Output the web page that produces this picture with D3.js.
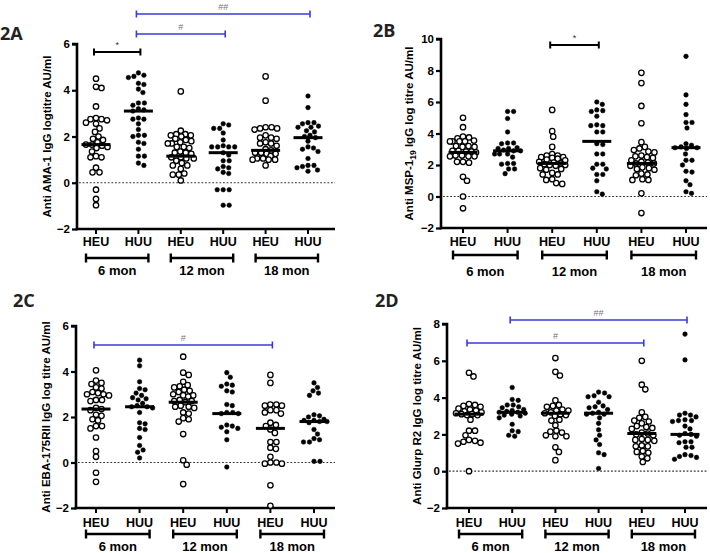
<!DOCTYPE html>
<html><head><meta charset="utf-8">
<script src="https://cdn.jsdelivr.net/npm/d3@7"></script>
<style>body{margin:0;background:#fff}svg{display:block;font-family:"Liberation Sans",Arial,sans-serif}</style>
</head><body>
<svg id="c" width="710" height="553"></svg>
<script>
// ---------- DATA ----------
const categories = ["HEU","HUU","HEU","HUU","HEU","HUU"];
const groups = ["6 mon","12 mon","18 mon"];

// 2A  Anti AMA-1
const ama1_HEU_6  = [4.5,4.15,4.1,3.3,2.8,2.75,2.75,2.7,2.6,2.55,2.35,2.2,2.0,1.9,1.85,1.75,1.65,1.65,1.6,1.55,1.5,1.35,1.15,1.1,1.1,0.65,0.45,0.45,-0.3,-0.7,-0.97];
const ama1_HUU_6  = [4.75,4.65,4.6,4.55,4.3,4.25,4.05,3.9,3.45,3.45,3.35,3.2,3.15,3.1,2.8,2.75,2.75,2.55,2.3,2.05,2.05,2.0,1.75,1.7,1.45,1.15,1.15,0.85,0.75];
const ama1_HEU_12 = [3.95,2.25,2.1,2.1,2.05,2.05,2.0,1.9,1.85,1.8,1.75,1.7,1.7,1.55,1.55,1.5,1.35,1.3,1.3,1.25,1.1,1.1,1.05,1.05,0.95,0.85,0.75,0.75,0.6,0.4,0.35,0.35,0.1];
const ama1_HUU_12 = [2.55,2.5,2.35,2.35,2.15,1.85,1.6,1.55,1.55,1.55,1.55,1.3,1.2,0.95,0.95,0.7,0.65,0.6,0.45,0.4,-0.3,-0.3,-0.3,-0.97,-0.97];
const ama1_HEU_18 = [4.6,3.55,2.4,2.4,2.35,2.35,2.3,2.05,1.95,1.95,1.9,1.75,1.7,1.7,1.6,1.45,1.4,1.3,1.3,1.25,1.25,1.15,1.05,1.05,1.0,1.0,1.0,0.75];
const ama1_HUU_18 = [3.75,3.25,2.6,2.6,2.55,2.45,2.4,2.4,2.25,2.2,2.05,2.0,1.95,1.8,1.55,1.5,1.45,1.35,1.05,0.75,0.7,0.65,0.55,0.5,0.75];
const ama1Medians = [1.65,3.1,1.15,1.3,1.4,1.95];
const ama1Ticks = [-2,0,2,4,6];

// 2B  Anti MSP-1 19
const msp1_HEU_6  = [5.0,4.4,3.8,3.75,3.7,3.55,3.5,3.5,3.5,3.5,3.2,3.15,3.15,3.2,2.9,2.9,2.85,2.85,2.8,2.6,2.55,2.55,2.55,2.6,2.2,2.2,2.15,1.25,1.0,0.0,-0.75];
const msp1_HUU_6  = [5.4,5.4,4.95,4.1,3.4,3.4,3.35,3.1,3.05,3.05,2.95,2.9,2.9,2.7,2.7,2.7,2.5,2.1,2.1,2.05,1.75,1.75,1.45];
const msp1_HEU_12 = [5.5,4.15,3.8,3.15,2.7,2.6,2.6,2.5,2.5,2.45,2.4,2.35,2.3,2.2,2.15,2.1,2.05,2.0,2.0,1.95,1.8,1.75,1.7,1.5,1.4,1.4,1.1,1.05,0.85,0.8];
const msp1_HUU_12 = [6.0,5.85,5.5,5.45,5.4,5.1,4.55,4.5,4.5,4.1,4.1,3.35,3.3,2.7,2.7,2.05,2.05,1.8,1.75,1.4,1.4,1.0,0.3,0.15];
const msp1_HEU_18 = [7.85,7.2,5.75,4.65,3.45,3.15,3.05,2.95,2.85,2.8,2.6,2.55,2.5,2.45,2.3,2.2,2.15,2.1,2.1,1.95,1.85,1.8,1.75,1.7,1.45,1.4,1.35,1.1,1.05,1.05,0.2,-1.05];
const msp1_HUU_18 = [8.9,6.45,5.85,5.2,4.7,4.7,4.35,3.35,3.25,3.15,3.1,3.1,3.05,2.7,2.3,2.3,2.0,1.6,1.55,1.0,0.75,0.3,0.2];
const msp1Medians = [2.8,2.9,2.1,3.5,2.1,3.1];
const msp1Ticks = [-2,0,2,4,6,8,10];

// 2C  Anti EBA-175RII
const eba_HEU_6  = [4.05,3.6,3.5,3.45,3.3,3.25,3.1,3.05,3.0,3.0,2.95,2.75,2.75,2.7,2.4,2.35,2.3,2.1,2.05,1.9,1.85,1.6,1.6,1.5,1.1,0.5,0.25,-0.45,-0.85];
const eba_HUU_6  = [4.5,4.25,3.55,3.25,3.2,3.05,2.95,2.85,2.8,2.75,2.6,2.5,2.45,2.45,2.4,2.2,1.75,1.7,1.5,1.45,1.1,0.75,0.55,0.45,0.2];
const eba_HEU_12 = [4.65,3.95,3.85,3.55,3.4,3.35,3.3,3.2,3.15,3.1,3.0,2.95,2.95,2.9,2.75,2.7,2.7,2.65,2.5,2.45,2.45,2.4,2.2,2.15,1.95,1.9,1.8,1.25,0.1,-0.1,-0.95];
const eba_HUU_12 = [3.95,3.75,3.45,3.4,3.35,3.15,3.1,2.55,2.5,2.2,2.2,2.15,2.15,1.65,1.6,1.55,1.5,1.35,1.0,-0.2];
const eba_HEU_18 = [3.85,3.5,2.55,2.5,2.5,2.55,2.3,2.3,2.2,2.15,1.75,1.65,1.6,1.45,1.3,0.9,0.9,0.65,0.6,0.25,0.0,-0.05,-0.05,0.0,-1.0,-1.9];
const eba_HUU_18 = [3.5,3.3,3.15,3.05,2.95,2.1,2.05,2.0,1.9,1.85,1.85,1.8,1.8,1.75,1.45,1.25,1.05,1.0,0.9,0.9,0.05,0.05];
const ebaMedians = [2.35,2.45,2.65,2.15,1.5,1.8];
const ebaTicks = [-2,0,2,4,6];

// 2D  Anti Glurp R2
const glurp_HEU_6  = [5.35,5.15,3.65,3.6,3.55,3.5,3.4,3.35,3.3,3.25,3.2,3.15,3.1,3.1,3.05,3.05,2.8,2.2,2.2,1.95,1.7,1.65,1.55,1.5,1.6,0.0];
const glurp_HUU_6  = [4.55,3.9,3.85,3.6,3.6,3.5,3.45,3.35,3.3,3.25,3.2,3.2,3.15,3.1,3.05,3.0,2.9,2.55,2.2,2.15,1.95,1.9];
const glurp_HEU_12 = [6.15,5.4,5.2,3.85,3.6,3.55,3.5,3.35,3.3,3.3,3.2,3.15,3.1,3.05,3.0,2.8,2.75,2.5,2.2,2.15,2.1,1.95,1.9,1.9,1.3,1.05,0.6];
const glurp_HUU_12 = [4.3,4.25,4.1,4.05,4.05,3.75,3.55,3.5,3.45,3.35,3.2,3.15,3.1,3.1,2.9,2.6,2.25,1.95,1.7,1.45,1.0,0.9,0.15];
const glurp_HEU_18 = [6.0,4.7,4.45,3.2,2.95,2.9,2.75,2.7,2.6,2.45,2.4,2.35,2.3,2.1,2.05,2.0,1.95,1.75,1.7,1.7,1.65,1.4,1.35,1.35,1.1,1.05,1.0,0.8,0.7,0.5];
const glurp_HUU_18 = [7.45,6.05,3.15,3.05,3.05,2.95,2.8,2.75,2.75,2.7,2.45,2.3,2.05,2.0,1.95,1.9,1.6,1.6,1.55,1.3,1.3,0.9,0.85,0.8,0.75,0.65];
const glurpMedians = [3.1,3.2,3.15,3.15,2.05,2.0];
const glurpTicks = [-2,0,2,4,6,8];

// significance comparisons: [fromIndex, toIndex, label, kind]
const sigA = [[0,1,"*","k"],[1,3,"#","b"],[1,5,"##","b"]];
const sigB = [[2,3,"*","k"]];
const sigC = [[0,4,"#","b"]];
const sigD = [[0,4,"#","b"],[1,5,"##","b"]];

// ---------- LAYOUT ----------
const panels = [
  {name:"2A", title:["Anti AMA-1 IgG logtitre AU/ml"], series:[ama1_HEU_6,ama1_HUU_6,ama1_HEU_12,ama1_HUU_12,ama1_HEU_18,ama1_HUU_18], med:ama1Medians, ticks:ama1Ticks, sig:sigA,
   lx:0, ly:40, ax:77, xe:335, yt:44, yb:229, c0:96, c5:308, tx:47, cly:246, by:258, gly:275, sigY:[52,34,14]},
  {name:"2B", title:["Anti MSP-1","19"," IgG log titre AU/ml"], series:[msp1_HEU_6,msp1_HUU_6,msp1_HEU_12,msp1_HUU_12,msp1_HEU_18,msp1_HUU_18], med:msp1Medians, ticks:msp1Ticks, sig:sigB,
   lx:373, ly:37, ax:441, xe:707, yt:39, yb:228, c0:463, c5:686, tx:409, cly:246, by:255, gly:276, sigY:[45]},
  {name:"2C", title:["Anti EBA-175RII IgG log titre AU/ml"], series:[eba_HEU_6,eba_HUU_6,eba_HEU_12,eba_HUU_12,eba_HEU_18,eba_HUU_18], med:ebaMedians, ticks:ebaTicks, sig:sigC,
   lx:13, ly:307, ax:76, xe:335, yt:326, yb:508, c0:96, c5:314, tx:46, cly:527, by:534, gly:551, sigY:[345]},
  {name:"2D", title:["Anti Glurp R2 IgG log titre AU/ml"], series:[glurp_HEU_6,glurp_HUU_6,glurp_HEU_12,glurp_HUU_12,glurp_HEU_18,glurp_HUU_18], med:glurpMedians, ticks:glurpTicks, sig:sigD,
   lx:375, ly:307, ax:447, xe:707, yt:324, yb:508, c0:469, c5:685, tx:417, cly:527, by:534, gly:551, sigY:[343,320]}
];

const svg = d3.select("#c");
const BLUE = "#3b3bdc";

function swarm(values, cx, y, minD, maxW) {
  const pts = values.map(v => ({v, py: y(v)})).sort((a,b) => a.py - b.py);
  const placed = [];
  for (const p of pts) {
    let best = 0, bestScore = Infinity;
    for (let k = 0; k < 200; k++) {
      const dx = (k % 2 === 1 ? 1 : -1) * Math.ceil(k/2) * 0.5;
      if (Math.abs(dx) > maxW) break;
      let score = 0;
      for (const q of placed) {
        const ddx = dx - q.dx, ddy = p.py - q.py;
        const d2 = ddx*ddx + ddy*ddy;
        if (d2 < minD*minD) score += (minD - Math.sqrt(d2));
      }
      if (score === 0) { best = dx; bestScore = 0; break; }
      if (score < bestScore - 1e-6) { bestScore = score; best = dx; }
    }
    p.dx = best; placed.push(p);
  }
  return placed.map(p => ({v:p.v, x: cx + p.dx, y: p.py}));
}

panels.forEach(P => {
  const g = svg.append("g");
  const y = d3.scaleLinear().domain([P.ticks[0], P.ticks[P.ticks.length-1]]).range([P.yb, P.yt]);
  const x = d3.scalePoint().domain(d3.range(categories.length)).range([P.c0, P.c5]);

  // panel label
  g.append("text").attr("x", P.lx).attr("y", P.ly).attr("font-family","'Open Sans',sans-serif")
    .attr("font-weight","bold").attr("font-size",18).attr("fill","#222").text(P.name);

  // y axis
  const yAxis = d3.axisLeft(y).tickValues(P.ticks).tickSize(5).tickPadding(2).tickFormat(d3.format("d"));
  const ya = g.append("g").attr("transform",`translate(${P.ax},0)`).call(yAxis);
  ya.select(".domain").attr("stroke","#000").attr("stroke-width",2.6).attr("d",`M-5,${P.yt}H0V${P.yb+1.3}`);
  ya.selectAll(".tick line").attr("stroke","#000").attr("stroke-width",2.2);
  ya.selectAll(".tick text").attr("font-size",11.5).attr("font-weight","bold").attr("fill","#000").attr("font-family","'Liberation Sans',Arial,sans-serif");

  // x axis line + ticks
  const xa = g.append("g").attr("transform",`translate(0,${P.yb})`);
  xa.append("line").attr("x1",P.ax-1.3).attr("x2",P.xe).attr("y1",0).attr("y2",0).attr("stroke","#000").attr("stroke-width",2.6);
  xa.selectAll("line.t").data(categories).join("line").attr("class","t")
    .attr("x1",(d,i)=>x(i)).attr("x2",(d,i)=>x(i)).attr("y1",0).attr("y2",5).attr("stroke","#000").attr("stroke-width",2);
  g.selectAll("text.cat").data(categories).join("text").attr("class","cat")
    .attr("x",(d,i)=>x(i)).attr("y",P.cly).attr("text-anchor","middle")
    .attr("font-size",12.5).attr("font-weight","bold").text(d=>d);

  // group brackets
  groups.forEach((gr, j) => {
    const x1 = x(2*j) - 10, x2 = x(2*j+1) + 10;
    g.append("path").attr("d",`M${x1},${P.by-4.5}V${P.by+4.5}M${x1},${P.by}H${x2}M${x2},${P.by-4.5}V${P.by+4.5}`)
      .attr("stroke","#000").attr("stroke-width",2.4).attr("fill","none");
    g.append("text").attr("x",(x(2*j)+x(2*j+1))/2).attr("y",P.gly).attr("text-anchor","middle")
      .attr("font-size",13).attr("font-weight","bold").text(gr);
  });

  // y title
  const t = g.append("text").attr("transform",`translate(${P.tx},${(P.yt+P.yb)/2}) rotate(-90)`)
    .attr("text-anchor","middle").attr("font-size",11.5).attr("font-weight","bold").attr("dy","0.35em");
  if (P.title.length === 1) t.text(P.title[0]);
  else {
    t.append("tspan").text(P.title[0]);
    t.append("tspan").attr("dy","3").attr("font-size",8.5).text(P.title[1]);
    t.append("tspan").attr("dy","-3").text(P.title[2]);
  }

  // zero line
  g.append("line").attr("x1",P.ax+2).attr("x2",P.xe).attr("y1",y(0)).attr("y2",y(0))
    .attr("stroke","#333").attr("stroke-width",1.2).attr("stroke-dasharray","1.8,1.8");

  // points
  P.series.forEach((vals, i) => {
    const pts = swarm(vals, x(i), y, 5.6, 13);
    const open = categories[i] === "HEU";
    g.append("g").selectAll("circle").data(pts).join("circle")
      .attr("cx",d=>d.x).attr("cy",d=>d.y).attr("r", open ? 2.7 : 2.3)
      .attr("fill", open ? "#fff" : "#000").attr("stroke","#000").attr("stroke-width", open ? 1.3 : 0.5);
    g.append("line").attr("x1",x(i)-14.5).attr("x2",x(i)+14.5).attr("y1",y(P.med[i])).attr("y2",y(P.med[i]))
      .attr("stroke","#000").attr("stroke-width",3);
  });

  // significance bars
  P.sig.forEach((s, k) => {
    const col = s[3] === "b" ? BLUE : "#000";
    const yy = P.sigY[k];
    const x1 = x(s[0]) - 2, x2 = x(s[1]) + 2;
    g.append("path").attr("d",`M${x1},${yy-3.5}V${yy+3.5}M${x1},${yy}H${x2}M${x2},${yy-3.5}V${yy+3.5}`)
      .attr("stroke",col).attr("stroke-width", s[3]==="b"?1.6:2).attr("fill","none");
    g.append("text").attr("x",(x1+x2)/2).attr("y",yy-4).attr("text-anchor","middle")
      .attr("font-size",9).attr("fill", s[3]==="b" ? "#777" : "#333").text(s[2]);
  });
});
</script>
</body></html>
